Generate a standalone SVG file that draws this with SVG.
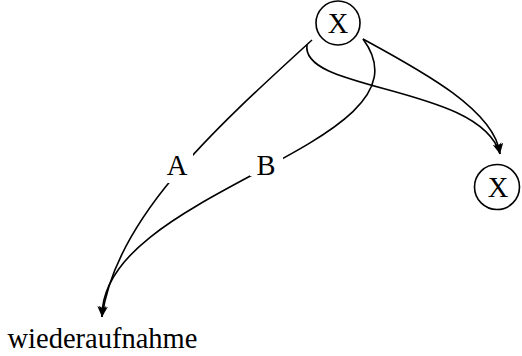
<svg xmlns="http://www.w3.org/2000/svg" width="522" height="356" viewBox="0 0 522 356">
<style>
.t{font-family:"Liberation Serif","Times New Roman",serif;font-size:28.5px;fill:#000}
.n{fill:#fff;stroke:#000;stroke-width:1.6}
.e{fill:none;stroke:#000;stroke-width:1.6}
.lb{fill:#fff;stroke:none}
</style>
<defs>
<marker id="ah" markerUnits="userSpaceOnUse" markerWidth="12" markerHeight="10" viewBox="0 0 12 10" refX="11" refY="5" orient="auto">
<path d="M11,5 L0,0.5 Q4,5 0,9.5 Z" fill="#000"/>
</marker>
</defs>
<rect width="522" height="356" fill="#fff"/>
<g id="connectors">
<path class="e" d="M312,40 C210,133 115,220 102,317" marker-end="url(#ah)"/>
<path class="e" d="M363,39 C442,145 100,190 102,317" marker-end="url(#ah)"/>
<path class="e" d="M307,45 C300,92 480,85 500,154" marker-end="url(#ah)"/>
<path class="e" d="M363,39 C420,70 495,110 500,154" marker-end="url(#ah)"/>
<g id="label-A"><rect class="lb" x="161" y="149" width="32" height="34"/><text class="t" x="177" y="175" text-anchor="middle">A</text></g>
<g id="label-B"><rect class="lb" x="250" y="150" width="33" height="26"/><text class="t" x="266" y="175" text-anchor="middle">B</text></g>
</g>
<g id="node-top">
<circle class="n" cx="338" cy="23" r="22"/>
<text class="t" x="338" y="32.5" text-anchor="middle">X</text>
</g>
<g id="node-right">
<circle class="n" cx="497" cy="187" r="22.5"/>
<text class="t" x="498" y="196.5" text-anchor="middle">X</text>
</g>
<g id="node-wiederaufnahme">
<text class="t" x="7.5" y="347.5">wiederaufnahme</text>
</g>
</svg>
